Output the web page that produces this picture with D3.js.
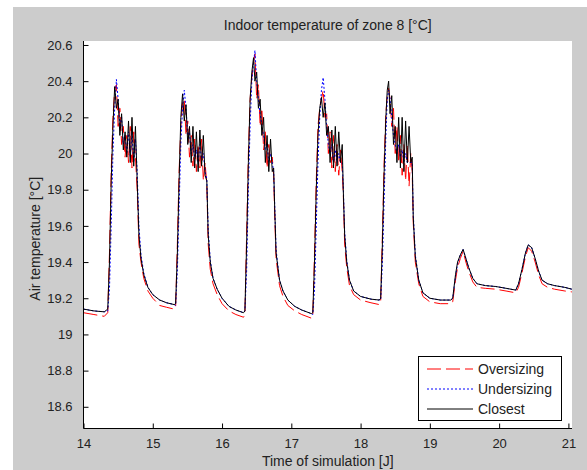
<!DOCTYPE html>
<html>
<head>
<meta charset="utf-8">
<script src="https://cdn.jsdelivr.net/npm/d3@7"></script>
<style>
  body { margin: 0; background: #ffffff; }
  text { font-family: "Liberation Sans", Arial, sans-serif; fill: #222; }
</style>
</head>
<body>
<div id="graph"></div>
<script>
// time of simulation [J]
var time = [
  14.00, 14.15, 14.30, 14.35, 14.375, 14.40, 14.425, 14.45, 14.475, 14.50, 14.525, 14.55, 14.575, 14.60, 14.625, 14.65, 14.675, 14.70, 14.725, 14.75, 14.775, 14.80, 14.83, 14.87, 14.93, 15.00, 15.10, 15.20, 15.31,
  15.33, 15.355, 15.38, 15.405, 15.43, 15.455, 15.48, 15.505, 15.53, 15.555, 15.58, 15.605, 15.63, 15.655, 15.68, 15.705, 15.73, 15.755, 15.78, 15.80, 15.83, 15.87, 15.93, 16.00, 16.10, 16.20, 16.31,
  16.33, 16.355, 16.38, 16.405, 16.43, 16.455, 16.475, 16.50, 16.525, 16.55, 16.575, 16.60, 16.625, 16.65, 16.675, 16.70, 16.725, 16.745, 16.76, 16.78, 16.83, 16.88, 16.95, 17.05, 17.15, 17.29,
  17.31, 17.335, 17.36, 17.385, 17.41, 17.435, 17.46, 17.485, 17.51, 17.535, 17.56, 17.585, 17.61, 17.635, 17.66, 17.685, 17.71, 17.735, 17.75, 17.77, 17.80, 17.84, 17.90, 18.00, 18.15, 18.27,
  18.29, 18.315, 18.34, 18.365, 18.385, 18.405, 18.425, 18.45, 18.475, 18.50, 18.525, 18.55, 18.575, 18.60, 18.625, 18.65, 18.675, 18.70, 18.725, 18.745, 18.76, 18.79, 18.84, 18.90, 19.00, 19.15, 19.30,
  19.33, 19.37, 19.40, 19.44, 19.48, 19.52, 19.56, 19.62, 19.68, 19.80, 19.95, 20.10, 20.24,
  20.28, 20.33, 20.38, 20.42, 20.47, 20.52, 20.57, 20.62, 20.70, 20.80, 20.95, 21.05
];

// Oversizing (red dashed)
var oversizing = [
  19.12, 19.11, 19.10, 19.12, 19.45, 19.90, 20.20, 20.35, 20.38, 20.15, 20.25, 20.05, 20.15, 19.98, 20.10, 19.95, 20.15, 19.92, 20.12, 19.98, 19.80, 19.50, 19.40, 19.31, 19.24, 19.20, 19.16, 19.15, 19.14,
  19.15, 19.50, 19.90, 20.15, 20.28, 20.30, 20.10, 20.18, 19.98, 20.10, 19.93, 20.08, 19.90, 20.05, 19.92, 20.08, 19.85, 19.95, 19.83, 19.50, 19.36, 19.28, 19.22, 19.17, 19.13, 19.11, 19.095,
  19.11, 19.55, 20.00, 20.30, 20.42, 20.50, 20.55, 20.30, 20.38, 20.15, 20.25, 20.02, 20.12, 19.92, 20.05, 19.95, 19.98, 19.88, 19.66, 19.42, 19.27, 19.21, 19.16, 19.13, 19.11, 19.09,
  19.10, 19.45, 19.85, 20.15, 20.25, 20.30, 20.35, 20.20, 20.22, 20.00, 20.12, 19.92, 20.10, 19.90, 20.05, 19.88, 20.02, 19.90, 19.78, 19.50, 19.37, 19.27, 19.22, 19.19, 19.175, 19.165,
  19.18, 19.55, 19.95, 20.22, 20.32, 20.36, 20.30, 20.15, 20.25, 20.00, 20.15, 19.95, 20.10, 19.88, 20.05, 19.85, 20.05, 19.82, 20.00, 19.90, 19.62, 19.40, 19.28, 19.21, 19.18, 19.17, 19.17,
  19.18, 19.30, 19.37, 19.42, 19.46, 19.40, 19.35, 19.29, 19.26, 19.255, 19.25, 19.24, 19.23,
  19.26, 19.34, 19.43, 19.48, 19.46, 19.40, 19.33, 19.28, 19.26, 19.25, 19.24, 19.235
];

// Undersizing (blue dotted)
var undersizing = [
  19.14, 19.13, 19.125, 19.13, 19.25, 19.60, 20.00, 20.25, 20.41, 20.30, 20.15, 20.20, 20.05, 20.10, 20.00, 20.12, 19.98, 20.12, 19.95, 20.08, 19.90, 19.60, 19.44, 19.34, 19.26, 19.22, 19.19, 19.175, 19.165,
  19.16, 19.35, 19.70, 20.05, 20.25, 20.35, 20.25, 20.10, 20.12, 20.00, 20.05, 19.98, 20.02, 19.95, 20.05, 19.97, 20.00, 19.90, 19.86, 19.58, 19.41, 19.31, 19.25, 19.20, 19.155, 19.135, 19.12,
  19.13, 19.35, 19.80, 20.15, 20.40, 20.50, 20.57, 20.40, 20.30, 20.22, 20.15, 20.10, 20.02, 20.05, 19.95, 20.00, 19.95, 19.90, 19.72, 19.47, 19.30, 19.24, 19.19, 19.155, 19.135, 19.115,
  19.11, 19.25, 19.60, 19.95, 20.20, 20.35, 20.42, 20.30, 20.15, 20.05, 20.00, 20.05, 19.95, 20.02, 19.95, 20.00, 19.95, 19.95, 19.82, 19.57, 19.41, 19.30, 19.24, 19.21, 19.195, 19.19,
  19.19, 19.40, 19.75, 20.10, 20.30, 20.35, 20.30, 20.20, 20.10, 20.05, 20.00, 20.05, 19.98, 20.02, 19.95, 20.00, 19.95, 19.95, 19.95, 19.95, 19.67, 19.44, 19.30, 19.23, 19.20, 19.19, 19.19,
  19.20, 19.32, 19.39, 19.44, 19.47, 19.42, 19.37, 19.31, 19.28, 19.27, 19.265, 19.255, 19.245,
  19.28, 19.36, 19.45, 19.495, 19.48, 19.42, 19.35, 19.30, 19.28, 19.27, 19.26, 19.25
];

// Closest (black solid)
var closest = [
  19.14, 19.13, 19.125, 19.14, 19.40, 19.85, 20.15, 20.37, 20.25, 20.30, 20.10, 20.22, 20.02, 20.12, 19.98, 20.18, 19.95, 20.20, 19.93, 20.15, 19.85, 19.55, 19.42, 19.33, 19.26, 19.22, 19.19, 19.175, 19.165,
  19.17, 19.45, 19.85, 20.20, 20.33, 20.18, 20.27, 20.05, 20.15, 19.95, 20.15, 19.92, 20.12, 19.90, 20.13, 19.93, 20.10, 19.88, 19.85, 19.55, 19.40, 19.31, 19.25, 19.20, 19.155, 19.135, 19.12,
  19.13, 19.50, 19.95, 20.30, 20.45, 20.53, 20.40, 20.45, 20.25, 20.30, 20.10, 20.20, 19.95, 20.10, 19.90, 20.08, 19.90, 19.92, 19.70, 19.45, 19.30, 19.24, 19.19, 19.155, 19.135, 19.115,
  19.12, 19.40, 19.80, 20.10, 20.25, 20.31, 20.20, 20.28, 20.10, 20.15, 19.95, 20.13, 19.92, 20.15, 19.93, 20.12, 19.95, 20.05, 19.80, 19.55, 19.40, 19.30, 19.24, 19.21, 19.195, 19.19,
  19.20, 19.50, 19.90, 20.20, 20.35, 20.40, 20.22, 20.32, 20.05, 20.15, 19.95, 20.20, 19.92, 20.20, 19.90, 20.18, 19.95, 20.15, 19.95, 19.98, 19.65, 19.43, 19.30, 19.23, 19.20, 19.19, 19.19,
  19.20, 19.33, 19.40, 19.44, 19.47, 19.42, 19.37, 19.31, 19.28, 19.27, 19.265, 19.255, 19.245,
  19.28, 19.36, 19.45, 19.495, 19.48, 19.42, 19.35, 19.30, 19.28, 19.27, 19.26, 19.25
];

var xTicks = [14, 15, 16, 17, 18, 19, 20, 21];
var yTicks = [18.6, 18.8, 19, 19.2, 19.4, 19.6, 19.8, 20, 20.2, 20.4, 20.6];
var seriesNames = ["Oversizing", "Undersizing", "Closest"];
var seriesColors = ["#ff0000", "#0000ff", "#000000"];
var seriesDash = ["14,5", "2,2", null];

var width = 587, height = 470;
var axLeft = 83.5, axRight = 572, axTop = 41, axBottom = 428.5;

var svg = d3.select("#graph").append("svg")
  .attr("width", width).attr("height", height);

// figure background (grey, with the white margin of the screenshot)
svg.append("rect").attr("x", 13).attr("y", 7).attr("width", width - 13).attr("height", height - 7)
  .attr("fill", "#cccccc");

// axes background
svg.append("rect").attr("x", axLeft).attr("y", axTop).attr("width", axRight - axLeft).attr("height", axBottom - axTop)
  .attr("fill", "#ffffff");

var x = d3.scaleLinear().domain([14, 21.052]).range([axLeft, axRight]);
var y = d3.scaleLinear().domain([18.48, 20.622]).range([axBottom, axTop]);

svg.append("clipPath").attr("id", "clip")
  .append("rect").attr("x", axLeft).attr("y", axTop).attr("width", axRight - axLeft).attr("height", axBottom - axTop);

//Drawing the three series
var allSeries = [oversizing, undersizing, closest];
var line = d3.line()
  .x(function(d) { return x(d[0]); })
  .y(function(d) { return y(d[1]); });

var plot = svg.append("g").attr("clip-path", "url(#clip)");
allSeries.forEach(function(vals, i) {
  plot.append("path")
    .datum(time.map(function(t, k) { return [t, vals[k]]; }))
    .attr("d", line)
    .attr("fill", "none")
    .attr("stroke", seriesColors[i])
    .attr("stroke-width", 1)
    .attr("stroke-dasharray", seriesDash[i]);
});

//Axes with inward ticks
var xAxis = svg.append("g").attr("transform", "translate(0," + axBottom + ")")
  .call(d3.axisBottom(x).tickValues(xTicks).tickSize(-5).tickPadding(10).tickFormat(d3.format("d")));
var yAxis = svg.append("g").attr("transform", "translate(" + axLeft + ",0)")
  .call(d3.axisLeft(y).tickValues(yTicks).tickSize(-5).tickPadding(11)
    .tickFormat(function(d) { return String(+d.toFixed(1)); }));

[xAxis, yAxis].forEach(function(a) {
  a.select(".domain").remove();
  a.selectAll(".tick line").attr("stroke", "#000");
  a.selectAll("text").attr("font-size", 13).attr("fill", "#222")
    .attr("font-family", "Liberation Sans, Arial, sans-serif");
});
svg.append("line").attr("x1", axLeft).attr("x2", axRight).attr("y1", axBottom).attr("y2", axBottom).attr("stroke", "#000");
svg.append("line").attr("x1", axLeft).attr("x2", axLeft).attr("y1", axTop).attr("y2", axBottom).attr("stroke", "#000");

//Title and labels
svg.append("text").attr("x", (axLeft + axRight) / 2).attr("y", 30)
  .attr("text-anchor", "middle").attr("font-size", 14).text("Indoor temperature of zone 8 [°C]");
svg.append("text").attr("x", (axLeft + axRight) / 2).attr("y", 466)
  .attr("text-anchor", "middle").attr("font-size", 14).text("Time of simulation [J]");
svg.append("text").attr("transform", "translate(40," + ((axTop + axBottom) / 2 + 4) + ") rotate(-90)")
  .attr("text-anchor", "middle").attr("font-size", 14).text("Air temperature [°C]");

//Legend
var legend = svg.append("g");
legend.append("rect").attr("x", 418.5).attr("y", 356.5).attr("width", 143).attr("height", 64)
  .attr("fill", "#fff").attr("stroke", "#000");
seriesNames.forEach(function(name, i) {
  var ly = 369 + i * 20;
  legend.append("line").attr("x1", 427).attr("x2", 473).attr("y1", ly).attr("y2", ly)
    .attr("stroke", seriesColors[i]).attr("stroke-dasharray", seriesDash[i]);
  legend.append("text").attr("x", 478).attr("y", ly + 5).attr("font-size", 14).text(name);
});
</script>
</body>
</html>
